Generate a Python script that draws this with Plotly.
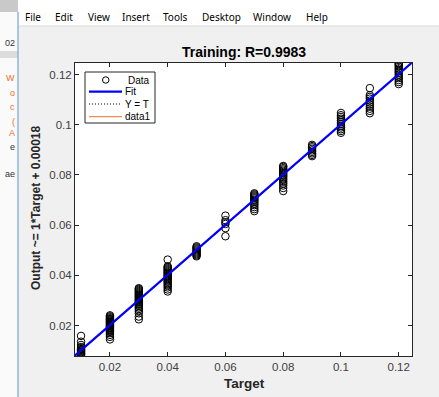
import plotly.graph_objects as go

# ---------------- data ----------------
targets = [0.01, 0.02, 0.03, 0.04, 0.05, 0.06, 0.07, 0.08, 0.09, 0.10, 0.11, 0.12]
out_001 = [0.0079, 0.0084, 0.0088, 0.0090, 0.0094, 0.0097, 0.0100, 0.0103, 0.0106, 0.0110, 0.0115, 0.0123, 0.0136, 0.0159]
out_002 = [0.0145, 0.0155, 0.0163, 0.0170, 0.0175, 0.0178, 0.0182, 0.0186, 0.0190, 0.0193, 0.0196, 0.0199, 0.0202,
           0.0205, 0.0208, 0.0211, 0.0214, 0.0217, 0.0220, 0.0223, 0.0226, 0.0229, 0.0233, 0.0237, 0.0241]
out_003 = [0.0225, 0.0236, 0.0249, 0.0258, 0.0266, 0.0272, 0.0278, 0.0283, 0.0287, 0.0291, 0.0295, 0.0299, 0.0302,
           0.0306, 0.0310, 0.0314, 0.0318, 0.0322, 0.0326, 0.0330, 0.0334, 0.0338, 0.0342, 0.0346, 0.0349]
out_004 = [0.0336, 0.0344, 0.0352, 0.0358, 0.0364, 0.0370, 0.0375, 0.0380, 0.0385, 0.0389, 0.0393, 0.0397, 0.0401,
           0.0405, 0.0409, 0.0413, 0.0417, 0.0421, 0.0425, 0.0429, 0.0433, 0.0436, 0.0463]
out_005 = [0.0476, 0.0480, 0.0484, 0.0488, 0.0492, 0.0496, 0.0500, 0.0504, 0.0508, 0.0512, 0.0516]
out_006 = [0.0556, 0.0588, 0.0605, 0.0612, 0.0620, 0.0638]
out_007 = [0.0656, 0.0664, 0.0672, 0.0680, 0.0686, 0.0692, 0.0697, 0.0702, 0.0707, 0.0711, 0.0715, 0.0719, 0.0723, 0.0727]
out_008 = [0.0736, 0.0748, 0.0758, 0.0766, 0.0773, 0.0780, 0.0786, 0.0792, 0.0797, 0.0802, 0.0807, 0.0812, 0.0817,
           0.0822, 0.0827, 0.0832, 0.0836]
out_009 = [0.0875, 0.0880, 0.0886, 0.0892, 0.0898, 0.0904, 0.0910, 0.0915, 0.0920]
out_010 = [0.0968, 0.0975, 0.0982, 0.0989, 0.0996, 0.1003, 0.1010, 0.1017, 0.1024, 0.1031, 0.1038, 0.1047]
out_011 = [0.1046, 0.1055, 0.1064, 0.1072, 0.1080, 0.1088, 0.1096, 0.1104, 0.1111, 0.1118, 0.1146]
out_012 = [0.1162, 0.1170, 0.1178, 0.1186, 0.1193, 0.1200, 0.1207, 0.1213, 0.1219, 0.1225, 0.1231, 0.1237, 0.1242, 0.1246]
outputs = [out_001, out_002, out_003, out_004, out_005, out_006, out_007, out_008, out_009, out_010, out_011, out_012]

fit_slope = 1.0
fit_intercept = 0.00018
axis_limits = [0.0079, 0.1246]
tick_vals = [0.02, 0.04, 0.06, 0.08, 0.10, 0.12]
tick_text = ["0.02", "0.04", "0.06", "0.08", "0.1", "0.12"]
title_text = "Training: R=0.9983"
xlabel = "Target"
ylabel = "Output ~= 1*Target + 0.00018"
legend_names = ["Data", "Fit", "Y = T", "data1"]
menu_items = ["File", "Edit", "View", "Insert", "Tools", "Desktop", "Window", "Help"]

# ---------------- figure ----------------
W, H = 439, 397
L, R, T, B = 75, 412, 63, 356


def px(x):
    return (x - L) / (R - L)


def py(y):
    return (B - y) / (B - T)


xs, ys = [], []
for t, outs in zip(targets, outputs):
    xs += [t] * len(outs)
    ys += outs

fig = go.Figure()
lo, hi = axis_limits
fig.add_trace(go.Scatter(x=[lo, hi], y=[lo, hi], mode="lines", line=dict(color="#e8702a", width=1),
                         showlegend=False, hoverinfo="skip"))
fig.add_trace(go.Scatter(x=[lo, hi], y=[lo, hi], mode="lines", line=dict(color="black", width=1, dash="1px,2px"),
                         showlegend=False, hoverinfo="skip"))
fig.add_trace(go.Scatter(x=xs, y=ys, mode="markers",
                         marker=dict(symbol="circle-open", size=7.5, color="black", line=dict(width=1)),
                         showlegend=False))
fig.add_trace(go.Scatter(x=[lo, hi], y=[fit_slope * lo + fit_intercept, fit_slope * hi + fit_intercept],
                         mode="lines", line=dict(color="#0000ff", width=2.2), showlegend=False))

axis_common = dict(range=axis_limits, tickvals=tick_vals, ticktext=tick_text, ticks="inside", ticklen=4,
                   tickcolor="#262626", showline=True, linecolor="#262626", linewidth=1, mirror="allticks",
                   showgrid=False, zeroline=False,
                   tickfont=dict(family="Liberation Sans, Arial", size=11.5, color="#404040"))
fig.update_xaxes(**axis_common)
fig.update_yaxes(**axis_common)

shapes = []
annotations = []
# left neighbouring window strip
shapes.append(dict(type="rect", xref="paper", yref="paper", x0=px(0), x1=px(18), y0=py(397), y1=py(0),
                   fillcolor="#fafafa", line=dict(width=0), layer="below"))
shapes.append(dict(type="rect", xref="paper", yref="paper", x0=px(0), x1=px(18), y0=py(12), y1=py(0),
                   fillcolor="#c9c9c9", line=dict(width=0), layer="below"))
shapes.append(dict(type="rect", xref="paper", yref="paper", x0=px(0), x1=px(18), y0=py(58), y1=py(51),
                   fillcolor="#dcdcdc", line=dict(width=0), layer="below"))
# menu bar
shapes.append(dict(type="rect", xref="paper", yref="paper", x0=px(18), x1=px(439), y0=py(26), y1=py(0),
                   fillcolor="#ffffff", line=dict(width=0), layer="below"))
shapes.append(dict(type="line", xref="paper", yref="paper", x0=px(18), x1=px(439), y0=py(26), y1=py(26),
                   line=dict(color="#d9d9d9", width=1)))
shapes.append(dict(type="line", xref="paper", yref="paper", x0=px(18), x1=px(18), y0=py(397), y1=py(12),
                   line=dict(color="#8fb4de", width=1.5)))

menu_x = [33, 64, 99, 136, 175, 221, 272, 317]
for name, mx in zip(menu_items, menu_x):
    annotations.append(dict(text=name, xref="paper", yref="paper", x=px(mx), y=py(17), showarrow=False,
                            xanchor="center", yanchor="middle",
                            font=dict(family="Noto Sans, Open Sans", size=10, color="#000000")))

left_bits = [("02", 43, "#333333"), ("W", 78, "#e8702a"), ("o", 93, "#e8702a"), ("c", 107, "#e8702a"),
             ("(", 122, "#e8702a"), ("A", 133, "#e8702a"), ("e", 147, "#333333"), ("ae", 174, "#333333")]
for txt, yy, col in left_bits:
    annotations.append(dict(text=txt, xref="paper", yref="paper", x=px(17), y=py(yy), showarrow=False,
                            xanchor="right", yanchor="middle",
                            font=dict(family="Liberation Sans, Arial", size=9, color=col)))

# legend box
shapes.append(dict(type="rect", xref="paper", yref="paper", x0=px(85), x1=px(155), y0=py(123), y1=py(72),
                   fillcolor="white", line=dict(color="#262626", width=1)))
shapes.append(dict(type="circle", xref="paper", yref="paper", x0=px(102.5), x1=px(109), y0=py(83.2), y1=py(76.8),
                   line=dict(color="black", width=1)))
shapes.append(dict(type="line", xref="paper", yref="paper", x0=px(89), x1=px(122), y0=py(91.7), y1=py(91.7),
                   line=dict(color="#0000ff", width=2.2)))
shapes.append(dict(type="line", xref="paper", yref="paper", x0=px(89), x1=px(122), y0=py(104), y1=py(104),
                   line=dict(color="black", width=1, dash="1px,2px")))
shapes.append(dict(type="line", xref="paper", yref="paper", x0=px(89), x1=px(122), y0=py(116.7), y1=py(116.7),
                   line=dict(color="#e8702a", width=1)))
for name, yy, xx in zip(legend_names, [80, 91.7, 104, 116.7], [126, 122.5, 122.5, 122.5]):
    annotations.append(dict(text=name, xref="paper", yref="paper", x=px(xx), y=py(yy), showarrow=False,
                            xanchor="left", yanchor="middle",
                            font=dict(family="Liberation Sans, Arial", size=10, color="#000000")))

# title and axis labels
annotations.append(dict(text="<b>%s</b>" % title_text, xref="paper", yref="paper", x=px(243.5), y=py(52),
                        showarrow=False, xanchor="center", yanchor="middle",
                        font=dict(family="Liberation Sans, Arial", size=14, color="#000000")))
annotations.append(dict(text="<b>%s</b>" % xlabel, xref="paper", yref="paper", x=px(244), y=py(383),
                        showarrow=False, xanchor="center", yanchor="middle",
                        font=dict(family="Liberation Sans, Arial", size=13.5, color="#262626")))
annotations.append(dict(text="<b>%s</b>" % ylabel, xref="paper", yref="paper", x=px(36), y=py(208),
                        showarrow=False, xanchor="center", yanchor="middle", textangle=-90,
                        font=dict(family="Liberation Sans, Arial", size=12, color="#262626")))

fig.update_layout(width=W, height=H, margin=dict(l=L, r=W - R, t=T, b=H - B, pad=0),
                  paper_bgcolor="#f0f0f0", plot_bgcolor="white", showlegend=False,
                  shapes=shapes, annotations=annotations)

fig.write_html("out.html", config={"displayModeBar": False},
               post_script="document.body.style.margin='0';document.body.style.overflow='hidden';")
